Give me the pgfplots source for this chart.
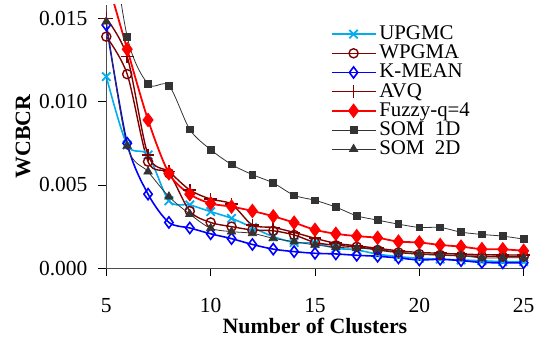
\documentclass[border=0pt]{standalone}
\usepackage{fontspec}
\setmainfont{Liberation Serif}
\usepackage{pgfplots}
\usepackage{pgfplotstable}
\pgfplotsset{compat=1.18}
\definecolor{dred}{RGB}{128,0,0}
\definecolor{som}{RGB}{51,51,51}
\pgfplotstableread{
x   upgmc  wpgma  kmean  avq   fuzzy  som1   som2
5   11.5   13.9   14.6   15.0  17.5   22.0   14.8
6   7.4    11.65  7.5    12.7  13.15  13.9   7.35
7   6.8    6.4    4.45   6.8   8.9    11.06  5.8
8   4.05   5.7    2.75   5.8   5.7    10.96  4.3
9   3.8    3.43   2.42   4.7   4.45   8.33   3.25
10  3.4    2.75   2.07   4.15  3.89   7.12   2.4
11  3.0    2.5    1.78   3.85  3.7    6.23   2.2
12  2.45   2.3    1.43   2.6   3.44   5.62   2.1
13  1.9    2.25   1.15   2.45  3.12   5.12   1.8
14  1.55   2.0    1.0    2.15  2.74   4.38   1.6
15  1.5    1.55   0.9    1.8   2.31   4.08   1.4
16  1.2    1.38   0.86   1.5   2.07   3.67   1.27
17  1.1    1.29   0.78   1.35  1.93   3.15   1.2
18  0.85   1.1    0.72   1.2   1.83   2.89   1.14
19  0.7    0.95   0.62   1.05  1.6    2.65   0.96
20  0.6    0.85   0.5    0.95  1.55   2.45   0.86
21  0.55   0.8    0.54   0.9   1.4    2.45   0.8
22  0.5    0.75   0.46   0.85  1.3    2.17   0.76
23  0.45   0.72   0.35   0.82  1.15   2.03   0.62
24  0.4    0.7    0.33   0.8   1.14   1.93   0.63
25  0.4    0.7    0.33   0.8   1.05   1.75   0.63
}\data
\begin{document}
\begin{tikzpicture}
\begin{axis}[
  scale only axis,
  width=210pt, height=132.5pt,
  xmin=5, xmax=25, ymin=0, ymax=0.0158,
  axis lines=left,
  axis line style={-, black!70},
  xtick={5,10,15,20,25},
  ytick={0,0.005,0.01,0.015},
  tick align=outside,
  major tick length=4pt,
  tick style={black},
  scaled y ticks=false,
  yticklabel style={/pgf/number format/fixed, /pgf/number format/fixed zerofill, /pgf/number format/precision=3, xshift=-2pt},
  /pgf/number format/assume math mode=true,
  ticklabel style={font=\fontsize{10.8}{12}\selectfont},
  xticklabel style={yshift=-7.5pt},
  xlabel={\textbf{Number of Clusters}},
  ylabel={\textbf{WCBCR}},
  label style={font=\fontsize{11}{12}\selectfont},
  xlabel style={yshift=4pt},
  ylabel style={yshift=-2.5pt},
  legend style={at={(0.537,0.934)}, anchor=north west, draw=none, fill=none,
    font=\fontsize{10.5}{10.5}\selectfont, row sep=-1.8pt, inner sep=0pt,
    nodes={inner sep=1.5pt}},
  legend cell align=left,
  legend image code/.code={
    \draw[mark repeat=2,mark phase=2,#1] plot coordinates {(0pt,0pt) (11pt,0pt) (22pt,0pt)};},
  every axis plot/.append style={smooth, tension=0.5},
  y filter/.expression={y*0.001},
]
\addplot[color=cyan, line width=0.8pt, mark=x, mark size=3pt, mark options={line width=0.9pt}] table[x=x,y=upgmc]{\data};
\addlegendentry{UPGMC}
\addplot[color=dred, line width=0.7pt, mark=o, mark size=2.3pt] table[x=x,y=wpgma]{\data};
\addlegendentry{WPGMA}
\addplot[color=blue, line width=0.8pt, mark=diamond, mark size=2.8pt, mark options={fill=white}] table[x=x,y=kmean]{\data};
\addlegendentry{K-MEAN}
\addplot[color=dred, line width=0.7pt, mark=+, mark size=3.2pt, mark options={line width=0.8pt}] table[x=x,y=avq]{\data};
\addlegendentry{AVQ}
\addplot[color=red, line width=0.9pt, mark=diamond*, mark size=3pt] table[x=x,y=fuzzy]{\data};
\addlegendentry{Fuzzy-q=4}
\addplot[color=som, line width=0.4pt, mark=square*, mark size=1.7pt] table[x=x,y=som1]{\data};
\addlegendentry{SOM\ \ 1D}
\addplot[color=som, line width=0.4pt, mark=triangle*, mark size=2.4pt] table[x=x,y=som2]{\data};
\addlegendentry{SOM\ \ 2D}
\end{axis}
\path (current axis.south west) ++(-53.5pt,-34pt) coordinate (bbA);
\path (current axis.north east) ++(7pt,2.5pt) coordinate (bbB);
\path (bbA) (bbB);
\end{tikzpicture}
\end{document}
